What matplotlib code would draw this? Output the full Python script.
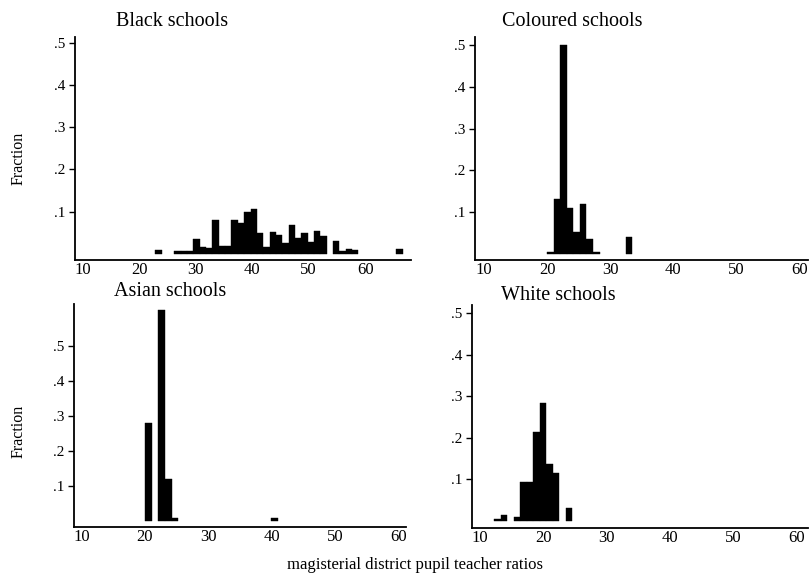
import numpy as np
import matplotlib
matplotlib.use("Agg")
import matplotlib.pyplot as plt

plt.rcParams['font.family'] = ['Liberation Serif', 'DejaVu Serif']

# fraction of districts per bin
black_start = 22.86
black_width = 1.123
black_frac = [0.008, 0, 0, 0.006, 0.006, 0.007, 0.035, 0.016, 0.013, 0.081,
              0.018, 0.019, 0.080, 0.073, 0.098, 0.106, 0.049, 0.015, 0.051, 0.043,
              0.024, 0.067, 0.037, 0.050, 0.027, 0.053, 0.042, 0, 0.029, 0.005,
              0.012, 0.009, 0, 0, 0, 0, 0, 0, 0.011]

coloured_start = 20.0
coloured_width = 1.04
coloured_frac = [0.004, 0.131, 0.500, 0.110, 0.052, 0.120, 0.036, 0.004, 0, 0,
                 0, 0, 0.040]

asian_start = 20.0
asian_width = 1.05
asian_frac = [0.280, 0, 0.603, 0.119, 0.007, 0, 0, 0, 0, 0,
              0, 0, 0, 0, 0, 0, 0, 0, 0, 0.008]

white_start = 12.25
white_width = 1.03
white_frac = [0.004, 0.015, 0, 0.010, 0.093, 0.094, 0.213, 0.284, 0.138, 0.116,
              0, 0.030]

x_ticks = [10, 20, 30, 40, 50, 60]
y_ticks = [0.1, 0.2, 0.3, 0.4, 0.5]
y_tick_labels = ['.1', '.2', '.3', '.4', '.5']

W, H = 809, 576
fig = plt.figure(figsize=(W / 100, H / 100), dpi=100)


def make_axes(left, top, right, bottom):
    # pixel box -> figure fraction
    return fig.add_axes([left / W, 1 - bottom / H, (right - left) / W, (bottom - top) / H])


def draw_hist(ax, start, width, frac, xlim, ylim):
    frac = np.array(frac)
    lefts = start + width * np.arange(len(frac))
    keep = frac > 0
    ax.bar(lefts[keep], frac[keep], width=width, align='edge',
           color='black', edgecolor='black', linewidth=0.3)
    ax.set_xlim(xlim)
    ax.set_ylim(ylim)
    ax.set_xticks(x_ticks)
    ax.set_yticks(y_ticks)
    ax.set_yticklabels(y_tick_labels)
    for side in ['top', 'right']:
        ax.spines[side].set_visible(False)
    for side in ['left', 'bottom']:
        ax.spines[side].set_linewidth(1.3)
    ax.tick_params(axis='x', length=0, pad=1.5, labelsize=12)
    ax.tick_params(axis='y', length=4, width=1, direction='out', pad=3, labelsize=11)


ax1 = make_axes(75.3, 37, 411, 260)
draw_hist(ax1, black_start, black_width, black_frac, (8.7, 68.1), (-0.0153, 0.515))

ax2 = make_axes(474.7, 37, 808, 260)
draw_hist(ax2, coloured_start, coloured_width, coloured_frac, (8.5, 61.4), (-0.014, 0.519))

ax3 = make_axes(74, 304, 406, 526.7)
draw_hist(ax3, asian_start, asian_width, asian_frac, (8.8, 61.2), (-0.0171, 0.619))

ax4 = make_axes(472.3, 305, 808, 528.3)
draw_hist(ax4, white_start, white_width, white_frac, (8.8, 61.8), (-0.018, 0.52))

# panel titles
fig.text(171.7 / W, 1 - 21.7 / H, 'Black schools', ha='center', va='center', fontsize=14.5)
fig.text(572.5 / W, 1 - 22 / H, 'Coloured schools', ha='center', va='center', fontsize=14.5)
fig.text(170.5 / W, 1 - 291.7 / H, 'Asian schools', ha='center', va='center', fontsize=14.5)
fig.text(558 / W, 1 - 295 / H, 'White schools', ha='center', va='center', fontsize=14.5)

fig.text(19 / W, 1 - 158 / H, 'Fraction', rotation=90, ha='center', va='center', fontsize=11.5)
fig.text(19 / W, 1 - 431.7 / H, 'Fraction', rotation=90, ha='center', va='center', fontsize=11.5)

fig.text(415 / W, 1 - 565 / H, 'magisterial district pupil teacher ratios',
         ha='center', va='center', fontsize=12)

fig.savefig('out.png', dpi=100)
